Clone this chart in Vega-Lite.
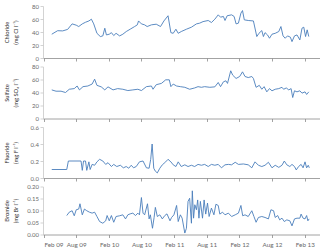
{
  "$schema": "https://vega.github.io/schema/vega-lite/v6.json",
  "padding": {"left": 3, "top": 3, "right": 0, "bottom": 2},
  "background": "white",
  "spacing": 8.5,
  "bounds": "flush",
  "config": {
    "view": {"stroke": null},
    "font": "Lato",
    "axis": {
      "grid": false,
      "labelFont": "Lato",
      "labelFontSize": 6,
      "labelColor": "#6a6a6a",
      "titleFont": "Lato",
      "titleFontSize": 5.8,
      "titleFontWeight": "normal",
      "titleColor": "#303030",
      "domainColor": "#c8c8c8",
      "tickColor": "#c8c8c8",
      "tickSize": 3,
      "labelPadding": 1.5,
      "domainWidth": 0.8,
      "tickWidth": 0.8
    }
  },
  "datasets": {
    "cl": [
      {"d": "2009-03-17", "v": 36.6}, {"d": "2009-04-19", "v": 42}, {"d": "2009-05-17", "v": 41.7}, {"d": "2009-06-14", "v": 44},
      {"d": "2009-07-09", "v": 52.5}, {"d": "2009-08-01", "v": 50.5}, {"d": "2009-08-15", "v": 48.4}, {"d": "2009-09-04", "v": 52.5},
      {"d": "2009-09-22", "v": 55}, {"d": "2009-10-11", "v": 57}, {"d": "2009-10-25", "v": 59.7}, {"d": "2009-11-07", "v": 52.5},
      {"d": "2009-11-25", "v": 38}, {"d": "2009-12-14", "v": 33}, {"d": "2009-12-28", "v": 34}, {"d": "2010-01-08", "v": 45.8},
      {"d": "2010-01-17", "v": 35.5}, {"d": "2010-02-02", "v": 36.6}, {"d": "2010-02-14", "v": 39}, {"d": "2010-02-27", "v": 34.5},
      {"d": "2010-03-12", "v": 38}, {"d": "2010-04-01", "v": 34}, {"d": "2010-04-19", "v": 36.6}, {"d": "2010-05-08", "v": 40.7},
      {"d": "2010-05-30", "v": 44.3}, {"d": "2010-06-24", "v": 48.4}, {"d": "2010-07-09", "v": 51}, {"d": "2010-07-16", "v": 57},
      {"d": "2010-08-01", "v": 52.5}, {"d": "2010-08-19", "v": 51}, {"d": "2010-09-02", "v": 48.4}, {"d": "2010-09-26", "v": 51},
      {"d": "2010-10-23", "v": 52}, {"d": "2010-11-16", "v": 48.4}, {"d": "2010-12-05", "v": 57}, {"d": "2010-12-28", "v": 65},
      {"d": "2011-01-13", "v": 39}, {"d": "2011-01-26", "v": 38}, {"d": "2011-02-10", "v": 44.3}, {"d": "2011-02-23", "v": 38},
      {"d": "2011-03-12", "v": 40.7}, {"d": "2011-04-10", "v": 44.3}, {"d": "2011-05-08", "v": 47.4}, {"d": "2011-06-05", "v": 52.5},
      {"d": "2011-06-23", "v": 53.6}, {"d": "2011-07-12", "v": 56}, {"d": "2011-08-10", "v": 57.7}, {"d": "2011-08-28", "v": 54.6},
      {"d": "2011-09-16", "v": 59.7}, {"d": "2011-10-05", "v": 66.4}, {"d": "2011-10-18", "v": 62.8}, {"d": "2011-11-03", "v": 63.9},
      {"d": "2011-11-12", "v": 57.7}, {"d": "2011-11-24", "v": 65}, {"d": "2011-12-19", "v": 66.4}, {"d": "2012-01-02", "v": 63.9},
      {"d": "2012-01-13", "v": 52.5}, {"d": "2012-01-26", "v": 53.6}, {"d": "2012-02-09", "v": 69}, {"d": "2012-02-18", "v": 73},
      {"d": "2012-02-28", "v": 58.7}, {"d": "2012-03-21", "v": 57.7}, {"d": "2012-04-19", "v": 57}, {"d": "2012-05-08", "v": 33},
      {"d": "2012-05-20", "v": 38}, {"d": "2012-06-05", "v": 42.2}, {"d": "2012-06-14", "v": 33}, {"d": "2012-06-23", "v": 39},
      {"d": "2012-07-07", "v": 35.5}, {"d": "2012-07-18", "v": 30.4}, {"d": "2012-08-01", "v": 36.6}, {"d": "2012-08-19", "v": 38},
      {"d": "2012-09-08", "v": 40.7}, {"d": "2012-09-20", "v": 48.4}, {"d": "2012-10-02", "v": 34}, {"d": "2012-10-14", "v": 30.4},
      {"d": "2012-10-27", "v": 34}, {"d": "2012-11-12", "v": 32}, {"d": "2012-11-21", "v": 25.2}, {"d": "2012-12-05", "v": 34},
      {"d": "2012-12-19", "v": 35.5}, {"d": "2013-01-04", "v": 27.8}, {"d": "2013-01-16", "v": 45.8}, {"d": "2013-01-26", "v": 47.4},
      {"d": "2013-02-05", "v": 33}, {"d": "2013-02-14", "v": 43.3}, {"d": "2013-02-23", "v": 33}
    ],
    "so4": [
      {"d": "2009-03-17", "v": 44}, {"d": "2009-04-10", "v": 42}, {"d": "2009-05-08", "v": 42}, {"d": "2009-06-02", "v": 40},
      {"d": "2009-06-23", "v": 45}, {"d": "2009-07-21", "v": 46}, {"d": "2009-08-06", "v": 50}, {"d": "2009-08-19", "v": 44},
      {"d": "2009-09-08", "v": 49}, {"d": "2009-10-05", "v": 50}, {"d": "2009-10-29", "v": 53}, {"d": "2009-11-12", "v": 60.5},
      {"d": "2009-11-25", "v": 51}, {"d": "2009-12-19", "v": 48.7}, {"d": "2010-01-08", "v": 44}, {"d": "2010-01-26", "v": 48.7},
      {"d": "2010-02-23", "v": 44}, {"d": "2010-03-21", "v": 46}, {"d": "2010-04-19", "v": 45}, {"d": "2010-05-17", "v": 43},
      {"d": "2010-06-14", "v": 44}, {"d": "2010-07-12", "v": 45}, {"d": "2010-08-01", "v": 43}, {"d": "2010-08-29", "v": 49},
      {"d": "2010-09-26", "v": 50}, {"d": "2010-10-05", "v": 45}, {"d": "2010-10-23", "v": 52}, {"d": "2010-11-21", "v": 54},
      {"d": "2010-12-15", "v": 59.5}, {"d": "2011-01-04", "v": 59.5}, {"d": "2011-01-13", "v": 49}, {"d": "2011-01-26", "v": 53},
      {"d": "2011-02-14", "v": 50}, {"d": "2011-03-07", "v": 49}, {"d": "2011-04-01", "v": 48}, {"d": "2011-04-28", "v": 45},
      {"d": "2011-05-26", "v": 47}, {"d": "2011-06-14", "v": 49}, {"d": "2011-07-03", "v": 48}, {"d": "2011-07-21", "v": 49},
      {"d": "2011-08-19", "v": 48}, {"d": "2011-09-16", "v": 48.7}, {"d": "2011-10-05", "v": 55.4}, {"d": "2011-10-18", "v": 49},
      {"d": "2011-11-03", "v": 56.4}, {"d": "2011-11-17", "v": 58}, {"d": "2011-11-26", "v": 54}, {"d": "2011-12-14", "v": 73.4},
      {"d": "2011-12-25", "v": 66.7}, {"d": "2012-01-13", "v": 61.6}, {"d": "2012-02-02", "v": 64.6}, {"d": "2012-02-18", "v": 71.8},
      {"d": "2012-03-03", "v": 64.6}, {"d": "2012-03-21", "v": 63}, {"d": "2012-04-10", "v": 64.6}, {"d": "2012-04-19", "v": 61.6},
      {"d": "2012-05-04", "v": 48}, {"d": "2012-05-22", "v": 51}, {"d": "2012-06-05", "v": 45}, {"d": "2012-06-18", "v": 49},
      {"d": "2012-07-03", "v": 41}, {"d": "2012-07-18", "v": 46}, {"d": "2012-08-01", "v": 42.6}, {"d": "2012-08-19", "v": 45},
      {"d": "2012-09-08", "v": 46}, {"d": "2012-09-26", "v": 48}, {"d": "2012-10-05", "v": 45}, {"d": "2012-10-20", "v": 47},
      {"d": "2012-11-03", "v": 44}, {"d": "2012-11-16", "v": 46}, {"d": "2012-11-25", "v": 32.3}, {"d": "2012-12-05", "v": 42.6},
      {"d": "2012-12-19", "v": 41}, {"d": "2013-01-04", "v": 42.6}, {"d": "2013-01-16", "v": 39}, {"d": "2013-02-02", "v": 41},
      {"d": "2013-02-11", "v": 37}, {"d": "2013-02-23", "v": 41}
    ],
    "f": [
      {"d": "2009-03-17", "v": 0.1}, {"d": "2009-06-09", "v": 0.1}, {"d": "2009-06-18", "v": 0.2}, {"d": "2009-08-28", "v": 0.2},
      {"d": "2009-09-04", "v": 0.09}, {"d": "2009-09-11", "v": 0.2}, {"d": "2009-09-22", "v": 0.2}, {"d": "2009-09-29", "v": 0.09},
      {"d": "2009-10-11", "v": 0.19}, {"d": "2009-10-18", "v": 0.1}, {"d": "2009-10-29", "v": 0.16}, {"d": "2009-11-12", "v": 0.15},
      {"d": "2009-11-25", "v": 0.19}, {"d": "2009-12-10", "v": 0.22}, {"d": "2009-12-28", "v": 0.2}, {"d": "2010-01-13", "v": 0.16},
      {"d": "2010-01-26", "v": 0.18}, {"d": "2010-02-14", "v": 0.135}, {"d": "2010-02-27", "v": 0.16}, {"d": "2010-03-16", "v": 0.135},
      {"d": "2010-04-05", "v": 0.15}, {"d": "2010-04-22", "v": 0.12}, {"d": "2010-05-08", "v": 0.135}, {"d": "2010-05-22", "v": 0.115},
      {"d": "2010-06-05", "v": 0.15}, {"d": "2010-06-18", "v": 0.12}, {"d": "2010-07-03", "v": 0.135}, {"d": "2010-07-21", "v": 0.19},
      {"d": "2010-08-10", "v": 0.2}, {"d": "2010-08-29", "v": 0.12}, {"d": "2010-09-13", "v": 0.115}, {"d": "2010-09-22", "v": 0.22},
      {"d": "2010-09-30", "v": 0.4}, {"d": "2010-10-09", "v": 0.115}, {"d": "2010-10-18", "v": 0.08}, {"d": "2010-10-29", "v": 0.06},
      {"d": "2010-11-12", "v": 0.115}, {"d": "2010-11-26", "v": 0.155}, {"d": "2010-12-15", "v": 0.19}, {"d": "2010-12-28", "v": 0.22},
      {"d": "2011-01-13", "v": 0.19}, {"d": "2011-01-26", "v": 0.155}, {"d": "2011-02-10", "v": 0.135}, {"d": "2011-02-23", "v": 0.19},
      {"d": "2011-03-12", "v": 0.135}, {"d": "2011-04-01", "v": 0.155}, {"d": "2011-04-19", "v": 0.135}, {"d": "2011-05-08", "v": 0.15},
      {"d": "2011-05-26", "v": 0.135}, {"d": "2011-06-14", "v": 0.16}, {"d": "2011-07-03", "v": 0.15}, {"d": "2011-07-21", "v": 0.16},
      {"d": "2011-08-10", "v": 0.135}, {"d": "2011-08-28", "v": 0.16}, {"d": "2011-09-16", "v": 0.15}, {"d": "2011-10-05", "v": 0.16},
      {"d": "2011-10-23", "v": 0.12}, {"d": "2011-11-12", "v": 0.155}, {"d": "2011-12-01", "v": 0.16}, {"d": "2011-12-19", "v": 0.155},
      {"d": "2012-01-08", "v": 0.185}, {"d": "2012-01-26", "v": 0.16}, {"d": "2012-02-23", "v": 0.165}, {"d": "2012-03-21", "v": 0.155},
      {"d": "2012-04-10", "v": 0.12}, {"d": "2012-04-28", "v": 0.19}, {"d": "2012-05-17", "v": 0.15}, {"d": "2012-06-05", "v": 0.135},
      {"d": "2012-06-23", "v": 0.15}, {"d": "2012-07-12", "v": 0.185}, {"d": "2012-08-01", "v": 0.12}, {"d": "2012-08-19", "v": 0.15},
      {"d": "2012-09-08", "v": 0.125}, {"d": "2012-09-26", "v": 0.15}, {"d": "2012-10-09", "v": 0.2}, {"d": "2012-10-23", "v": 0.155},
      {"d": "2012-11-09", "v": 0.135}, {"d": "2012-11-21", "v": 0.16}, {"d": "2012-12-05", "v": 0.135}, {"d": "2012-12-15", "v": 0.095},
      {"d": "2012-12-28", "v": 0.135}, {"d": "2013-01-11", "v": 0.16}, {"d": "2013-01-22", "v": 0.12}, {"d": "2013-02-02", "v": 0.19},
      {"d": "2013-02-11", "v": 0.12}, {"d": "2013-02-20", "v": 0.15}, {"d": "2013-02-26", "v": 0.12}
    ],
    "br": [
      {"d": "2009-06-09", "v": 0.079}, {"d": "2009-06-23", "v": 0.093}, {"d": "2009-07-09", "v": 0.099}, {"d": "2009-07-21", "v": 0.078},
      {"d": "2009-08-01", "v": 0.103}, {"d": "2009-08-15", "v": 0.106}, {"d": "2009-08-22", "v": 0.128}, {"d": "2009-09-04", "v": 0.082},
      {"d": "2009-09-16", "v": 0.106}, {"d": "2009-09-29", "v": 0.099}, {"d": "2009-10-14", "v": 0.093}, {"d": "2009-10-29", "v": 0.089},
      {"d": "2009-11-12", "v": 0.093}, {"d": "2009-11-25", "v": 0.075}, {"d": "2009-12-10", "v": 0.054}, {"d": "2009-12-28", "v": 0.047},
      {"d": "2010-01-13", "v": 0.057}, {"d": "2010-01-21", "v": 0.079}, {"d": "2010-02-02", "v": 0.057}, {"d": "2010-02-14", "v": 0.079},
      {"d": "2010-02-27", "v": 0.051}, {"d": "2010-03-12", "v": 0.075}, {"d": "2010-04-01", "v": 0.078}, {"d": "2010-04-19", "v": 0.082},
      {"d": "2010-05-04", "v": 0.065}, {"d": "2010-05-17", "v": 0.082}, {"d": "2010-05-30", "v": 0.086}, {"d": "2010-06-14", "v": 0.089},
      {"d": "2010-06-29", "v": 0.079}, {"d": "2010-07-12", "v": 0.089}, {"d": "2010-07-21", "v": 0.082}, {"d": "2010-08-01", "v": 0.154},
      {"d": "2010-08-10", "v": 0.089}, {"d": "2010-08-19", "v": 0.082}, {"d": "2010-09-04", "v": 0.128}, {"d": "2010-09-13", "v": 0.065},
      {"d": "2010-09-20", "v": 0.082}, {"d": "2010-10-02", "v": 0.026}, {"d": "2010-10-11", "v": 0.071}, {"d": "2010-10-18", "v": 0.113},
      {"d": "2010-10-29", "v": 0.075}, {"d": "2010-11-12", "v": 0.082}, {"d": "2010-11-26", "v": 0.065}, {"d": "2010-12-10", "v": 0.079},
      {"d": "2010-12-22", "v": 0.086}, {"d": "2011-01-08", "v": 0.057}, {"d": "2011-01-17", "v": 0.071}, {"d": "2011-01-30", "v": 0.082},
      {"d": "2011-02-14", "v": 0.121}, {"d": "2011-02-23", "v": 0.054}, {"d": "2011-03-07", "v": 0.082}, {"d": "2011-03-17", "v": 0.068},
      {"d": "2011-04-01", "v": 0.006}, {"d": "2011-04-10", "v": 0.026}, {"d": "2011-04-19", "v": 0.138}, {"d": "2011-04-28", "v": 0.151},
      {"d": "2011-05-08", "v": 0.047}, {"d": "2011-05-13", "v": 0.182}, {"d": "2011-05-20", "v": 0.068}, {"d": "2011-05-27", "v": 0.124},
      {"d": "2011-06-05", "v": 0.103}, {"d": "2011-06-12", "v": 0.144}, {"d": "2011-06-19", "v": 0.068}, {"d": "2011-06-27", "v": 0.138},
      {"d": "2011-07-09", "v": 0.068}, {"d": "2011-07-18", "v": 0.144}, {"d": "2011-07-27", "v": 0.085}, {"d": "2011-08-06", "v": 0.131},
      {"d": "2011-08-15", "v": 0.075}, {"d": "2011-08-28", "v": 0.11}, {"d": "2011-09-11", "v": 0.082}, {"d": "2011-09-22", "v": 0.126},
      {"d": "2011-10-05", "v": 0.121}, {"d": "2011-10-14", "v": 0.085}, {"d": "2011-10-29", "v": 0.093}, {"d": "2011-11-12", "v": 0.082},
      {"d": "2011-12-01", "v": 0.089}, {"d": "2011-12-19", "v": 0.075}, {"d": "2012-01-08", "v": 0.082}, {"d": "2012-01-26", "v": 0.089},
      {"d": "2012-02-09", "v": 0.121}, {"d": "2012-02-19", "v": 0.078}, {"d": "2012-03-03", "v": 0.082}, {"d": "2012-03-21", "v": 0.075},
      {"d": "2012-04-10", "v": 0.099}, {"d": "2012-04-22", "v": 0.075}, {"d": "2012-05-04", "v": 0.051}, {"d": "2012-05-17", "v": 0.071},
      {"d": "2012-06-05", "v": 0.075}, {"d": "2012-06-23", "v": 0.071}, {"d": "2012-07-12", "v": 0.065}, {"d": "2012-07-26", "v": 0.103},
      {"d": "2012-08-10", "v": 0.099}, {"d": "2012-08-19", "v": 0.071}, {"d": "2012-09-02", "v": 0.079}, {"d": "2012-09-13", "v": 0.061},
      {"d": "2012-09-26", "v": 0.068}, {"d": "2012-10-09", "v": 0.054}, {"d": "2012-10-23", "v": 0.061}, {"d": "2012-11-09", "v": 0.057},
      {"d": "2012-11-21", "v": 0.036}, {"d": "2012-12-05", "v": 0.065}, {"d": "2012-12-19", "v": 0.068}, {"d": "2013-01-04", "v": 0.068},
      {"d": "2013-01-11", "v": 0.085}, {"d": "2013-01-22", "v": 0.068}, {"d": "2013-02-02", "v": 0.065}, {"d": "2013-02-11", "v": 0.079},
      {"d": "2013-02-18", "v": 0.057}, {"d": "2013-02-25", "v": 0.065}
    ]
  },
  "resolve": {"scale": {"x": "independent", "y": "independent"}},
  "vconcat": [
    {
      "data": {"name": "cl"},
      "width": 279,
      "height": 52,
      "mark": {"type": "line", "color": "#4a7ebb", "strokeWidth": 0.9},
      "encoding": {
        "x": {
          "field": "d", "type": "temporal",
          "scale": {"domain": [{"year": 2009, "month": 1, "date": 27}, {"year": 2013, "month": 5, "date": 8}]},
          "axis": {"title": null, "labels": false, "domainColor": "#8c8c8c", "tickColor": "#8c8c8c",
            "values": [{"year": 2009, "month": 2, "date": 1}, {"year": 2009, "month": 8, "date": 1}, {"year": 2010, "month": 2, "date": 1}, {"year": 2010, "month": 8, "date": 1}, {"year": 2011, "month": 2, "date": 1}, {"year": 2011, "month": 8, "date": 1}, {"year": 2012, "month": 2, "date": 1}, {"year": 2012, "month": 8, "date": 1}, {"year": 2013, "month": 2, "date": 1}]}
        },
        "y": {
          "field": "v", "type": "quantitative",
          "scale": {"domain": [0, 80]},
          "axis": {"values": [0, 20, 40, 60, 80], "format": "d", "title": ["Chloride", "(mg Cl l⁻¹)"], "titleX": -34, "titleLineHeight": 9}
        }
      }
    },
    {
      "data": {"name": "so4"},
      "width": 279,
      "height": 52,
      "mark": {"type": "line", "color": "#4a7ebb", "strokeWidth": 0.9},
      "encoding": {
        "x": {
          "field": "d", "type": "temporal",
          "scale": {"domain": [{"year": 2009, "month": 1, "date": 27}, {"year": 2013, "month": 5, "date": 8}]},
          "axis": {"title": null, "labels": false, "domainColor": "#8c8c8c", "tickColor": "#8c8c8c",
            "values": [{"year": 2009, "month": 2, "date": 1}, {"year": 2009, "month": 8, "date": 1}, {"year": 2010, "month": 2, "date": 1}, {"year": 2010, "month": 8, "date": 1}, {"year": 2011, "month": 2, "date": 1}, {"year": 2011, "month": 8, "date": 1}, {"year": 2012, "month": 2, "date": 1}, {"year": 2012, "month": 8, "date": 1}, {"year": 2013, "month": 2, "date": 1}]}
        },
        "y": {
          "field": "v", "type": "quantitative",
          "scale": {"domain": [0, 80]},
          "axis": {"values": [0, 20, 40, 60, 80], "format": "d", "title": ["Sulfate", "(mg SO₄ l⁻¹)"], "titleX": -34, "titleLineHeight": 9}
        }
      }
    },
    {
      "data": {"name": "f"},
      "width": 279,
      "height": 51,
      "mark": {"type": "line", "color": "#4a7ebb", "strokeWidth": 0.9},
      "encoding": {
        "x": {
          "field": "d", "type": "temporal",
          "scale": {"domain": [{"year": 2009, "month": 1, "date": 27}, {"year": 2013, "month": 5, "date": 8}]},
          "axis": {"title": null, "labels": false, "domainColor": "#8c8c8c", "tickColor": "#8c8c8c",
            "values": [{"year": 2009, "month": 2, "date": 1}, {"year": 2009, "month": 8, "date": 1}, {"year": 2010, "month": 2, "date": 1}, {"year": 2010, "month": 8, "date": 1}, {"year": 2011, "month": 2, "date": 1}, {"year": 2011, "month": 8, "date": 1}, {"year": 2012, "month": 2, "date": 1}, {"year": 2012, "month": 8, "date": 1}, {"year": 2013, "month": 2, "date": 1}]}
        },
        "y": {
          "field": "v", "type": "quantitative",
          "scale": {"domain": [0, 0.6]},
          "axis": {"values": [0, 0.2, 0.4, 0.6], "format": ".1f", "title": ["Fluoride", "(mg F l⁻¹)"], "titleX": -34, "titleLineHeight": 9}
        }
      }
    },
    {
      "data": {"name": "br"},
      "width": 279,
      "height": 48,
      "mark": {"type": "line", "color": "#4a7ebb", "strokeWidth": 0.9},
      "encoding": {
        "x": {
          "field": "d", "type": "temporal",
          "scale": {"domain": [{"year": 2009, "month": 1, "date": 27}, {"year": 2013, "month": 5, "date": 8}]},
          "axis": {"title": null, "format": "%b %y", "labelPadding": 3.5, "labelFontSize": 6.3, "domainColor": "#8c8c8c", "tickColor": "#8c8c8c",
            "values": [{"year": 2009, "month": 2, "date": 1}, {"year": 2009, "month": 8, "date": 1}, {"year": 2010, "month": 2, "date": 1}, {"year": 2010, "month": 8, "date": 1}, {"year": 2011, "month": 2, "date": 1}, {"year": 2011, "month": 8, "date": 1}, {"year": 2012, "month": 2, "date": 1}, {"year": 2012, "month": 8, "date": 1}, {"year": 2013, "month": 2, "date": 1}]}
        },
        "y": {
          "field": "v", "type": "quantitative",
          "scale": {"domain": [0, 0.2]},
          "axis": {"values": [0, 0.05, 0.1, 0.15, 0.2], "format": ".2f", "title": ["Bromide", "(mg Br l⁻¹)"], "titleX": -34, "titleLineHeight": 9}
        }
      }
    }
  ]
}
